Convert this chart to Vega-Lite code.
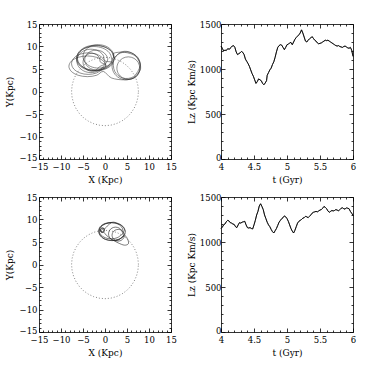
{
"$schema":"https://vega.github.io/schema/vega-lite/v6.json",
"padding":{"left":5,"top":20,"right":5,"bottom":5},
"background":"white",
"config":{"view":{"stroke":null},"axis":{"labelFont":"DejaVu Serif","titleFont":"DejaVu Serif","labelFontSize":8.5,"titleFontSize":9,"titleFontWeight":"normal","labelColor":"black","titleColor":"black","domainColor":"black","tickColor":"black","grid":false,"domainWidth":0.8,"tickWidth":0.8,"labelOverlap":false,"labelFlush":false}},
"datasets":{
"circle":[{"x":7.6,"y":0},{"x":7.48,"y":1.32},{"x":7.14,"y":2.6},{"x":6.58,"y":3.8},{"x":5.82,"y":4.89},{"x":4.89,"y":5.82},{"x":3.8,"y":6.58},{"x":2.6,"y":7.14},{"x":1.32,"y":7.48},{"x":0,"y":7.6},{"x":-1.32,"y":7.48},{"x":-2.6,"y":7.14},{"x":-3.8,"y":6.58},{"x":-4.89,"y":5.82},{"x":-5.82,"y":4.89},{"x":-6.58,"y":3.8},{"x":-7.14,"y":2.6},{"x":-7.48,"y":1.32},{"x":-7.6,"y":0},{"x":-7.48,"y":-1.32},{"x":-7.14,"y":-2.6},{"x":-6.58,"y":-3.8},{"x":-5.82,"y":-4.89},{"x":-4.89,"y":-5.82},{"x":-3.8,"y":-6.58},{"x":-2.6,"y":-7.14},{"x":-1.32,"y":-7.48},{"x":0,"y":-7.6},{"x":1.32,"y":-7.48},{"x":2.6,"y":-7.14},{"x":3.8,"y":-6.58},{"x":4.89,"y":-5.82},{"x":5.82,"y":-4.89},{"x":6.58,"y":-3.8},{"x":7.14,"y":-2.6},{"x":7.48,"y":-1.32},{"x":7.6,"y":0}],
"orbit1":[
{"x":2.0,"y":7.5},{"x":1.44,"y":8.9},{"x":-0.1,"y":9.92},{"x":-2.2,"y":10.3},{"x":-4.3,"y":9.92},{"x":-5.84,"y":8.9},{"x":-6.4,"y":7.5},{"x":-5.84,"y":6.1},{"x":-4.3,"y":5.08},{"x":-2.2,"y":4.7},{"x":-0.1,"y":5.08},{"x":1.44,"y":6.1},
{"x":1.5,"y":7.3},{"x":0.96,"y":8.65},{"x":-0.5,"y":9.64},{"x":-2.5,"y":10.0},{"x":-4.5,"y":9.64},{"x":-5.96,"y":8.65},{"x":-6.5,"y":7.3},{"x":-5.96,"y":5.95},{"x":-4.5,"y":4.96},{"x":-2.5,"y":4.6},{"x":-0.5,"y":4.96},{"x":0.96,"y":5.95},
{"x":2.0,"y":7.8},{"x":1.53,"y":9.1},{"x":0.25,"y":10.05},{"x":-1.5,"y":10.4},{"x":-3.25,"y":10.05},{"x":-4.53,"y":9.1},{"x":-5.0,"y":7.8},{"x":-4.53,"y":6.5},{"x":-3.25,"y":5.55},{"x":-1.5,"y":5.2},{"x":0.25,"y":5.55},{"x":1.53,"y":6.5},
{"x":0,"y":6.8},{"x":-0.43,"y":8.1},{"x":-1.6,"y":9.05},{"x":-3.2,"y":9.4},{"x":-4.8,"y":9.05},{"x":-5.97,"y":8.1},{"x":-6.4,"y":6.8},{"x":-5.97,"y":5.5},{"x":-4.8,"y":4.55},{"x":-3.2,"y":4.2},{"x":-1.6,"y":4.55},{"x":-0.43,"y":5.5},
{"x":0.6,"y":7.0},{"x":0.25,"y":8.1},{"x":-0.7,"y":8.91},{"x":-2.0,"y":9.2},{"x":-3.3,"y":8.91},{"x":-4.25,"y":8.1},{"x":-4.6,"y":7.0},{"x":-4.25,"y":5.9},{"x":-3.3,"y":5.09},{"x":-2.0,"y":4.8},{"x":-0.7,"y":5.09},{"x":0.25,"y":5.9},
{"x":-1,"y":6.5},{"x":-1.27,"y":7.5},{"x":-2,"y":8.23},{"x":-3,"y":8.5},{"x":-4,"y":8.23},{"x":-4.73,"y":7.5},{"x":-5,"y":6.5},{"x":-4.73,"y":5.5},{"x":-4,"y":4.77},{"x":-3,"y":4.5},{"x":-2,"y":4.77},{"x":-1.27,"y":5.5},
{"x":0,"y":6.2},{"x":-0.51,"y":7.4},{"x":-1.9,"y":8.28},{"x":-3.8,"y":8.6},{"x":-5.7,"y":8.28},{"x":-7.09,"y":7.4},{"x":-7.6,"y":6.2},{"x":-7.09,"y":5.0},{"x":-5.7,"y":4.12},{"x":-3.8,"y":3.8},{"x":-1.9,"y":4.12},{"x":-0.51,"y":5.0},
{"x":0.2,"y":5.6},{"x":-0.36,"y":6.75},{"x":-1.9,"y":7.59},{"x":-4,"y":7.9},{"x":-6.1,"y":7.59},{"x":-7.64,"y":6.75},{"x":-8.2,"y":5.6},{"x":-7.64,"y":4.45},{"x":-6.1,"y":3.61},{"x":-4,"y":3.3},{"x":-1.9,"y":3.61},{"x":-0.36,"y":4.45},
{"x":1.5,"y":3.0},{"x":4.5,"y":2.6},{"x":7,"y":3.2},{"x":8.0,"y":5.2},{"x":7.5,"y":7.5},{"x":5.5,"y":8.8},{"x":3.5,"y":8.7},{"x":2.0,"y":7.0},{"x":2.2,"y":4.5},{"x":4,"y":3.0},{"x":6.5,"y":3.3},
{"x":8.0,"y":5.7},{"x":7.57,"y":7.25},{"x":6.4,"y":8.38},{"x":4.8,"y":8.8},{"x":3.2,"y":8.38},{"x":2.03,"y":7.25},{"x":1.6,"y":5.7},{"x":2.03,"y":4.15},{"x":3.2,"y":3.02},{"x":4.8,"y":2.6},{"x":6.4,"y":3.02},{"x":7.57,"y":4.15},
{"x":7.9,"y":5.2},{"x":7.55,"y":6.45},{"x":6.6,"y":7.37},{"x":5.3,"y":7.7},{"x":4.0,"y":7.37},{"x":3.05,"y":6.45},{"x":2.7,"y":5.2},{"x":3.05,"y":3.95},{"x":4.0,"y":3.03},{"x":5.3,"y":2.7},{"x":6.6,"y":3.03},{"x":7.55,"y":3.95},
{"x":8.1,"y":5.5},{"x":7,"y":7.8},{"x":4.5,"y":8.7},{"x":2,"y":8.5},
{"x":2.15,"y":7.4},{"x":1.59,"y":8.8},{"x":0.05,"y":9.82},{"x":-2.05,"y":10.2},{"x":-4.15,"y":9.82},{"x":-5.69,"y":8.8},{"x":-6.25,"y":7.4},{"x":-5.69,"y":6.0},{"x":-4.15,"y":4.98},{"x":-2.05,"y":4.6},{"x":0.05,"y":4.98},{"x":1.59,"y":6.0},{"x":2.15,"y":7.4}],
"orbit2":[
{"x":4.6,"y":7.3},{"x":4.2,"y":8.3},{"x":3.1,"y":9.03},{"x":1.6,"y":9.3},{"x":0.1,"y":9.03},{"x":-1.0,"y":8.3},{"x":-1.4,"y":7.3},{"x":-1.0,"y":6.3},{"x":0.1,"y":5.57},{"x":1.6,"y":5.3},{"x":3.1,"y":5.57},{"x":4.2,"y":6.3},
{"x":4.1,"y":7.5},{"x":3.74,"y":8.4},{"x":2.75,"y":9.06},{"x":1.4,"y":9.3},{"x":0.05,"y":9.06},{"x":-0.94,"y":8.4},{"x":-1.3,"y":7.5},{"x":-0.94,"y":6.6},{"x":0.05,"y":5.94},{"x":1.4,"y":5.7},{"x":2.75,"y":5.94},{"x":3.74,"y":6.6},
{"x":4.0,"y":6.8},{"x":3.79,"y":7.55},{"x":3.2,"y":8.1},{"x":2.4,"y":8.3},{"x":1.6,"y":8.1},{"x":1.01,"y":7.55},{"x":0.8,"y":6.8},{"x":1.01,"y":6.05},{"x":1.6,"y":5.5},{"x":2.4,"y":5.3},{"x":3.2,"y":5.5},{"x":3.79,"y":6.05},
{"x":4.4,"y":6.5},{"x":4.21,"y":7.15},{"x":3.7,"y":7.63},{"x":3.0,"y":7.8},{"x":2.3,"y":7.63},{"x":1.79,"y":7.15},{"x":1.6,"y":6.5},{"x":1.79,"y":5.85},{"x":2.3,"y":5.37},{"x":3.0,"y":5.2},{"x":3.7,"y":5.37},{"x":4.21,"y":5.85},
{"x":4.6,"y":6.4},{"x":5.2,"y":5.5},{"x":5.3,"y":4.6},{"x":4.4,"y":4.3},{"x":3.0,"y":4.8},{"x":1.5,"y":5.6},{"x":0.3,"y":6.5},
{"x":-0.3,"y":7.2},{"x":-0.9,"y":7.3},{"x":-1.0,"y":7.9},{"x":-0.4,"y":8.1},{"x":-0.1,"y":7.6},{"x":-0.5,"y":7.1},{"x":-1.1,"y":7.5},{"x":-0.8,"y":8.1},{"x":-0.2,"y":7.9},{"x":-0.3,"y":7.3},{"x":-0.9,"y":7.2},{"x":-0.7,"y":7.8},{"x":0.0,"y":8.0},
{"x":1.5,"y":9.35},{"x":3.0,"y":9.1},{"x":4.1,"y":8.4},{"x":4.6,"y":7.3},{"x":4.3,"y":6.4},{"x":3.1,"y":5.6},{"x":1.6,"y":5.35},{"x":0.1,"y":5.6},{"x":-1.0,"y":6.4},{"x":-1.4,"y":7.4},{"x":-1.1,"y":8.4},{"x":0.0,"y":9.1},{"x":1.5,"y":9.35}],
"lz1":[{"t":4.00,"v":1255},{"t":4.02,"v":1230},{"t":4.04,"v":1200},{"t":4.06,"v":1210},{"t":4.08,"v":1205},{"t":4.10,"v":1225},{"t":4.13,"v":1220},{"t":4.15,"v":1240},{"t":4.17,"v":1255},{"t":4.19,"v":1260},{"t":4.21,"v":1240},{"t":4.23,"v":1190},{"t":4.25,"v":1160},{"t":4.27,"v":1170},{"t":4.29,"v":1180},{"t":4.31,"v":1195},{"t":4.33,"v":1185},{"t":4.35,"v":1160},{"t":4.37,"v":1110},{"t":4.39,"v":1085},{"t":4.41,"v":1060},{"t":4.43,"v":1030},{"t":4.45,"v":990},{"t":4.47,"v":950},{"t":4.49,"v":920},{"t":4.51,"v":880},{"t":4.53,"v":840},{"t":4.55,"v":860},{"t":4.57,"v":890},{"t":4.59,"v":880},{"t":4.61,"v":870},{"t":4.63,"v":840},{"t":4.65,"v":825},{"t":4.67,"v":845},{"t":4.69,"v":870},{"t":4.70,"v":930},{"t":4.72,"v":960},{"t":4.74,"v":990},{"t":4.76,"v":1010},{"t":4.78,"v":1050},{"t":4.80,"v":1080},{"t":4.82,"v":1130},{"t":4.84,"v":1190},{"t":4.86,"v":1240},{"t":4.88,"v":1260},{"t":4.90,"v":1270},{"t":4.92,"v":1265},{"t":4.94,"v":1240},{"t":4.96,"v":1215},{"t":4.98,"v":1240},{"t":5.00,"v":1270},{"t":5.02,"v":1275},{"t":5.04,"v":1290},{"t":5.06,"v":1295},{"t":5.08,"v":1270},{"t":5.10,"v":1300},{"t":5.12,"v":1330},{"t":5.14,"v":1350},{"t":5.16,"v":1365},{"t":5.18,"v":1380},{"t":5.20,"v":1400},{"t":5.22,"v":1435},{"t":5.24,"v":1400},{"t":5.26,"v":1355},{"t":5.28,"v":1310},{"t":5.30,"v":1300},{"t":5.32,"v":1320},{"t":5.34,"v":1335},{"t":5.36,"v":1345},{"t":5.38,"v":1360},{"t":5.40,"v":1340},{"t":5.42,"v":1320},{"t":5.44,"v":1310},{"t":5.46,"v":1290},{"t":5.48,"v":1280},{"t":5.50,"v":1285},{"t":5.52,"v":1290},{"t":5.54,"v":1300},{"t":5.56,"v":1310},{"t":5.58,"v":1320},{"t":5.60,"v":1315},{"t":5.62,"v":1320},{"t":5.64,"v":1310},{"t":5.66,"v":1300},{"t":5.68,"v":1290},{"t":5.70,"v":1280},{"t":5.72,"v":1270},{"t":5.74,"v":1260},{"t":5.76,"v":1255},{"t":5.78,"v":1260},{"t":5.80,"v":1250},{"t":5.82,"v":1245},{"t":5.84,"v":1240},{"t":5.86,"v":1250},{"t":5.88,"v":1255},{"t":5.90,"v":1245},{"t":5.92,"v":1235},{"t":5.94,"v":1230},{"t":5.96,"v":1240},{"t":5.98,"v":1210},{"t":6.00,"v":1140}],
"lz2":[{"t":4.00,"v":1150},{"t":4.02,"v":1165},{"t":4.04,"v":1190},{"t":4.06,"v":1200},{"t":4.08,"v":1225},{"t":4.10,"v":1240},{"t":4.12,"v":1235},{"t":4.14,"v":1215},{"t":4.16,"v":1210},{"t":4.18,"v":1200},{"t":4.20,"v":1195},{"t":4.22,"v":1170},{"t":4.24,"v":1160},{"t":4.26,"v":1190},{"t":4.28,"v":1215},{"t":4.30,"v":1210},{"t":4.32,"v":1220},{"t":4.34,"v":1225},{"t":4.36,"v":1230},{"t":4.38,"v":1190},{"t":4.40,"v":1160},{"t":4.42,"v":1155},{"t":4.44,"v":1160},{"t":4.46,"v":1150},{"t":4.48,"v":1145},{"t":4.50,"v":1190},{"t":4.52,"v":1240},{"t":4.54,"v":1300},{"t":4.56,"v":1340},{"t":4.58,"v":1400},{"t":4.60,"v":1425},{"t":4.62,"v":1395},{"t":4.64,"v":1360},{"t":4.66,"v":1300},{"t":4.68,"v":1260},{"t":4.70,"v":1220},{"t":4.72,"v":1190},{"t":4.74,"v":1170},{"t":4.76,"v":1140},{"t":4.78,"v":1115},{"t":4.80,"v":1100},{"t":4.82,"v":1125},{"t":4.84,"v":1150},{"t":4.86,"v":1185},{"t":4.88,"v":1220},{"t":4.90,"v":1240},{"t":4.92,"v":1260},{"t":4.94,"v":1270},{"t":4.96,"v":1290},{"t":4.98,"v":1280},{"t":5.00,"v":1260},{"t":5.02,"v":1230},{"t":5.04,"v":1190},{"t":5.06,"v":1150},{"t":5.08,"v":1120},{"t":5.10,"v":1100},{"t":5.12,"v":1130},{"t":5.14,"v":1170},{"t":5.16,"v":1210},{"t":5.18,"v":1230},{"t":5.20,"v":1240},{"t":5.22,"v":1250},{"t":5.24,"v":1265},{"t":5.26,"v":1270},{"t":5.28,"v":1285},{"t":5.30,"v":1280},{"t":5.32,"v":1270},{"t":5.34,"v":1285},{"t":5.36,"v":1300},{"t":5.38,"v":1320},{"t":5.40,"v":1330},{"t":5.42,"v":1335},{"t":5.44,"v":1340},{"t":5.46,"v":1335},{"t":5.48,"v":1345},{"t":5.50,"v":1355},{"t":5.52,"v":1360},{"t":5.54,"v":1375},{"t":5.56,"v":1395},{"t":5.58,"v":1385},{"t":5.60,"v":1370},{"t":5.62,"v":1345},{"t":5.64,"v":1330},{"t":5.66,"v":1340},{"t":5.68,"v":1350},{"t":5.70,"v":1345},{"t":5.72,"v":1350},{"t":5.74,"v":1360},{"t":5.76,"v":1355},{"t":5.78,"v":1345},{"t":5.80,"v":1360},{"t":5.82,"v":1375},{"t":5.84,"v":1380},{"t":5.86,"v":1370},{"t":5.88,"v":1365},{"t":5.90,"v":1380},{"t":5.92,"v":1375},{"t":5.94,"v":1370},{"t":5.96,"v":1340},{"t":5.98,"v":1320},{"t":6.00,"v":1295}]
},
"spacing":8,
"vconcat":[
{"hconcat":[
{"width":132,"height":135,"resolve":{"axis":{"x":"independent","y":"independent"}},"layer":[
{"data":{"name":"circle"},"mark":{"type":"line","strokeDash":[1,2],"color":"#666","strokeWidth":0.8},"encoding":{
"x":{"field":"x","type":"quantitative","scale":{"domain":[-15,15],"nice":false,"zero":false},"axis":{"orient":"bottom","title":"X (Kpc)","values":[-15,-14,-13,-12,-11,-10,-9,-8,-7,-6,-5,-4,-3,-2,-1,0,1,2,3,4,5,6,7,8,9,10,11,12,13,14,15],"labelExpr":"datum.value % 5 == 0 ? datum.label : ''","tickSize":{"condition":{"test":"datum.value % 5 == 0","value":-4},"value":-2},"labelPadding":7,"titlePadding":3}},
"y":{"field":"y","type":"quantitative","scale":{"domain":[-15,15],"nice":false,"zero":false},"axis":{"orient":"left","title":"Y(Kpc)","values":[-15,-14,-13,-12,-11,-10,-9,-8,-7,-6,-5,-4,-3,-2,-1,0,1,2,3,4,5,6,7,8,9,10,11,12,13,14,15],"labelExpr":"datum.value % 5 == 0 ? datum.label : ''","labelOffset":{"condition":{"test":"datum.value == -15","value":-2},"value":0},"tickSize":{"condition":{"test":"datum.value % 5 == 0","value":-4},"value":-2},"labelPadding":6,"titlePadding":5}},
"order":{"value":null}}},
{"data":{"name":"orbit1"},"mark":{"type":"line","color":"#222","strokeWidth":0.5,"interpolate":"cardinal"},"encoding":{
"x":{"field":"x","type":"quantitative","axis":{"orient":"top","title":null,"labels":false,"values":[-15,-14,-13,-12,-11,-10,-9,-8,-7,-6,-5,-4,-3,-2,-1,0,1,2,3,4,5,6,7,8,9,10,11,12,13,14,15],"tickSize":{"condition":{"test":"datum.value % 5 == 0","value":-4},"value":-2}}},
"y":{"field":"y","type":"quantitative","axis":{"orient":"right","title":null,"labels":false,"values":[-15,-14,-13,-12,-11,-10,-9,-8,-7,-6,-5,-4,-3,-2,-1,0,1,2,3,4,5,6,7,8,9,10,11,12,13,14,15],"tickSize":{"condition":{"test":"datum.value % 5 == 0","value":-4},"value":-2}}},
"order":{"value":null}}}]},
{"width":132,"height":135,"resolve":{"axis":{"x":"independent","y":"independent"}},"layer":[
{"data":{"name":"lz1"},"mark":{"type":"line","color":"black","strokeWidth":0.9},"encoding":{
"x":{"field":"t","type":"quantitative","scale":{"domain":[4,6],"nice":false,"zero":false},"axis":{"orient":"bottom","title":"t (Gyr)","values":[4,4.1,4.2,4.3,4.4,4.5,4.6,4.7,4.8,4.9,5,5.1,5.2,5.3,5.4,5.5,5.6,5.7,5.8,5.9,6],"labelExpr":"abs(datum.value*2-round(datum.value*2)) < 0.001 ? format(datum.value,'~g') : ''","tickSize":{"condition":{"test":"abs(datum.value*2-round(datum.value*2)) < 0.001","value":-4},"value":-2},"labelPadding":7,"titlePadding":3}},
"y":{"field":"v","type":"quantitative","scale":{"domain":[0,1500],"nice":false},"axis":{"orient":"left","title":"Lz (Kpc Km/s)","values":[0,100,200,300,400,500,600,700,800,900,1000,1100,1200,1300,1400,1500],"labelExpr":"datum.value % 500 == 0 ? format(datum.value,'d') : ''","labelOffset":{"condition":{"test":"datum.value == 0","value":-2},"value":0},"tickSize":{"condition":{"test":"datum.value % 500 == 0","value":-4},"value":-2},"labelPadding":4,"titlePadding":3}}}},
{"data":{"name":"lz1"},"mark":{"type":"line","color":"black","strokeWidth":0.5},"encoding":{
"x":{"field":"t","type":"quantitative","axis":{"orient":"top","title":null,"labels":false,"values":[4,4.1,4.2,4.3,4.4,4.5,4.6,4.7,4.8,4.9,5,5.1,5.2,5.3,5.4,5.5,5.6,5.7,5.8,5.9,6],"tickSize":{"condition":{"test":"abs(datum.value*2-round(datum.value*2)) < 0.001","value":-4},"value":-2}}},
"y":{"field":"v","type":"quantitative","axis":{"orient":"right","title":null,"labels":false,"values":[0,100,200,300,400,500,600,700,800,900,1000,1100,1200,1300,1400,1500],"tickSize":{"condition":{"test":"datum.value % 500 == 0","value":-4},"value":-2}}}}}]}
],"bounds":"flush","spacing":50},
{"hconcat":[
{"width":132,"height":135,"resolve":{"axis":{"x":"independent","y":"independent"}},"layer":[
{"data":{"name":"circle"},"mark":{"type":"line","strokeDash":[1,2],"color":"#666","strokeWidth":0.8},"encoding":{
"x":{"field":"x","type":"quantitative","scale":{"domain":[-15,15],"nice":false,"zero":false},"axis":{"orient":"bottom","title":"X (Kpc)","values":[-15,-14,-13,-12,-11,-10,-9,-8,-7,-6,-5,-4,-3,-2,-1,0,1,2,3,4,5,6,7,8,9,10,11,12,13,14,15],"labelExpr":"datum.value % 5 == 0 ? datum.label : ''","tickSize":{"condition":{"test":"datum.value % 5 == 0","value":-4},"value":-2},"labelPadding":7,"titlePadding":3}},
"y":{"field":"y","type":"quantitative","scale":{"domain":[-15,15],"nice":false,"zero":false},"axis":{"orient":"left","title":"Y(Kpc)","values":[-15,-14,-13,-12,-11,-10,-9,-8,-7,-6,-5,-4,-3,-2,-1,0,1,2,3,4,5,6,7,8,9,10,11,12,13,14,15],"labelExpr":"datum.value % 5 == 0 ? datum.label : ''","labelOffset":{"condition":{"test":"datum.value == -15","value":-2},"value":0},"tickSize":{"condition":{"test":"datum.value % 5 == 0","value":-4},"value":-2},"labelPadding":6,"titlePadding":5}},
"order":{"value":null}}},
{"data":{"name":"orbit2"},"mark":{"type":"line","color":"#222","strokeWidth":0.6,"interpolate":"cardinal"},"encoding":{
"x":{"field":"x","type":"quantitative","axis":{"orient":"top","title":null,"labels":false,"values":[-15,-14,-13,-12,-11,-10,-9,-8,-7,-6,-5,-4,-3,-2,-1,0,1,2,3,4,5,6,7,8,9,10,11,12,13,14,15],"tickSize":{"condition":{"test":"datum.value % 5 == 0","value":-4},"value":-2}}},
"y":{"field":"y","type":"quantitative","axis":{"orient":"right","title":null,"labels":false,"values":[-15,-14,-13,-12,-11,-10,-9,-8,-7,-6,-5,-4,-3,-2,-1,0,1,2,3,4,5,6,7,8,9,10,11,12,13,14,15],"tickSize":{"condition":{"test":"datum.value % 5 == 0","value":-4},"value":-2}}},
"order":{"value":null}}}]},
{"width":132,"height":135,"resolve":{"axis":{"x":"independent","y":"independent"}},"layer":[
{"data":{"name":"lz2"},"mark":{"type":"line","color":"black","strokeWidth":0.9},"encoding":{
"x":{"field":"t","type":"quantitative","scale":{"domain":[4,6],"nice":false,"zero":false},"axis":{"orient":"bottom","title":"t (Gyr)","values":[4,4.1,4.2,4.3,4.4,4.5,4.6,4.7,4.8,4.9,5,5.1,5.2,5.3,5.4,5.5,5.6,5.7,5.8,5.9,6],"labelExpr":"abs(datum.value*2-round(datum.value*2)) < 0.001 ? format(datum.value,'~g') : ''","tickSize":{"condition":{"test":"abs(datum.value*2-round(datum.value*2)) < 0.001","value":-4},"value":-2},"labelPadding":7,"titlePadding":3}},
"y":{"field":"v","type":"quantitative","scale":{"domain":[0,1500],"nice":false},"axis":{"orient":"left","title":"Lz (Kpc Km/s)","values":[0,100,200,300,400,500,600,700,800,900,1000,1100,1200,1300,1400,1500],"labelExpr":"datum.value % 500 == 0 ? format(datum.value,'d') : ''","labelOffset":{"condition":{"test":"datum.value == 0","value":-2},"value":0},"tickSize":{"condition":{"test":"datum.value % 500 == 0","value":-4},"value":-2},"labelPadding":4,"titlePadding":3}}}},
{"data":{"name":"lz2"},"mark":{"type":"line","color":"black","strokeWidth":0.5},"encoding":{
"x":{"field":"t","type":"quantitative","axis":{"orient":"top","title":null,"labels":false,"values":[4,4.1,4.2,4.3,4.4,4.5,4.6,4.7,4.8,4.9,5,5.1,5.2,5.3,5.4,5.5,5.6,5.7,5.8,5.9,6],"tickSize":{"condition":{"test":"abs(datum.value*2-round(datum.value*2)) < 0.001","value":-4},"value":-2}}},
"y":{"field":"v","type":"quantitative","axis":{"orient":"right","title":null,"labels":false,"values":[0,100,200,300,400,500,600,700,800,900,1000,1100,1200,1300,1400,1500],"tickSize":{"condition":{"test":"datum.value % 500 == 0","value":-4},"value":-2}}}}}]}
],"bounds":"flush","spacing":50}
]
}
